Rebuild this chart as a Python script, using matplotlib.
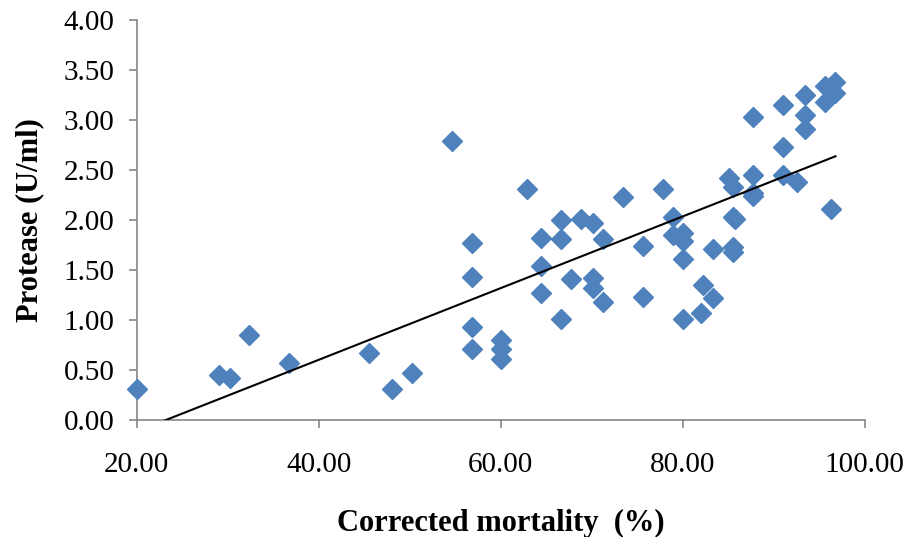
import numpy as np
import matplotlib
matplotlib.use("Agg")
import matplotlib.pyplot as plt

# corrected mortality (%) and protease activity (U/ml)
mortality = [20.0, 29.0, 30.2, 32.3, 36.7, 45.5, 48.0, 50.2,
             54.6, 56.8, 56.8, 56.8, 56.8, 60.0, 60.0, 60.0,
             62.9, 64.4, 64.4, 64.4, 66.6, 66.6, 66.6, 67.7,
             68.8, 70.1, 70.1, 70.1, 71.2, 71.2, 73.4, 75.6,
             75.6, 77.8, 78.9, 78.9, 80.0, 80.0, 80.0, 80.0,
             82.0, 82.2, 83.3, 83.3, 85.1, 85.5, 85.5, 85.8,
             85.5, 85.5, 87.7, 87.7, 87.7, 87.7, 91.0, 91.0,
             91.0, 92.6, 93.5, 93.5, 93.5, 95.6, 95.6, 96.8,
             96.8, 96.3]
protease = [0.31, 0.45, 0.42, 0.85, 0.57, 0.67, 0.31, 0.47,
            2.79, 1.77, 1.43, 0.93, 0.71, 0.80, 0.71, 0.61,
            2.31, 1.82, 1.54, 1.27, 2.00, 1.81, 1.01, 1.41,
            2.01, 1.97, 1.42, 1.32, 1.81, 1.18, 2.23, 1.74,
            1.23, 2.31, 2.03, 1.85, 1.87, 1.79, 1.61, 1.01,
            1.07, 1.35, 1.71, 1.22, 2.42, 2.33, 2.03, 2.01,
            1.73, 1.68, 3.03, 2.45, 2.27, 2.24, 3.15, 2.73,
            2.45, 2.38, 3.25, 3.05, 2.91, 3.34, 3.18, 3.38,
            3.27, 2.11]

x_ticks = [20, 40, 60, 80, 100]
y_ticks = [0, 0.5, 1.0, 1.5, 2.0, 2.5, 3.0, 3.5, 4.0]

plt.rcParams['font.family'] = ['Liberation Serif', 'DejaVu Serif']

fig = plt.figure(figsize=(9.12, 5.37), dpi=100)
ax = fig.add_axes([0.150, 0.218, 0.798, 0.745])

ax.plot(mortality, protease, linestyle='none', marker='D', markersize=10,
        color='#4F81BD', markeredgecolor='#4F81BD', zorder=3, clip_on=False)

# linear trendline like Excel's
m, b = np.polyfit(mortality, protease, 1)
xs = np.array([min(mortality), max(mortality)])
ax.plot(xs, m * xs + b, color='black', linewidth=1.5, zorder=4)

ax.set_xlim(20, 100)
ax.set_ylim(0, 4)
ax.set_xticks(x_ticks)
ax.set_yticks(y_ticks)
ax.set_xticklabels(['%.2f' % v for v in x_ticks])
ax.set_yticklabels(['%.2f' % v for v in y_ticks])

for s in ['top', 'right']:
    ax.spines[s].set_visible(False)
for s in ['left', 'bottom']:
    ax.spines[s].set_color('#868686')
    ax.spines[s].set_linewidth(1.2)
    ax.spines[s].set_clip_on(False)
ax.tick_params(axis='both', direction='out', length=6, width=1.2,
               color='#868686', labelsize=21)
ax.tick_params(axis='y', pad=10)
ax.tick_params(axis='x', pad=17)

ax.set_xlabel('Corrected mortality  (%)', fontsize=22, fontweight='bold', labelpad=22)
ax.set_ylabel('Protease (U/ml)', fontsize=22, fontweight='bold', labelpad=14)

fig.savefig('out.png', dpi=100)
